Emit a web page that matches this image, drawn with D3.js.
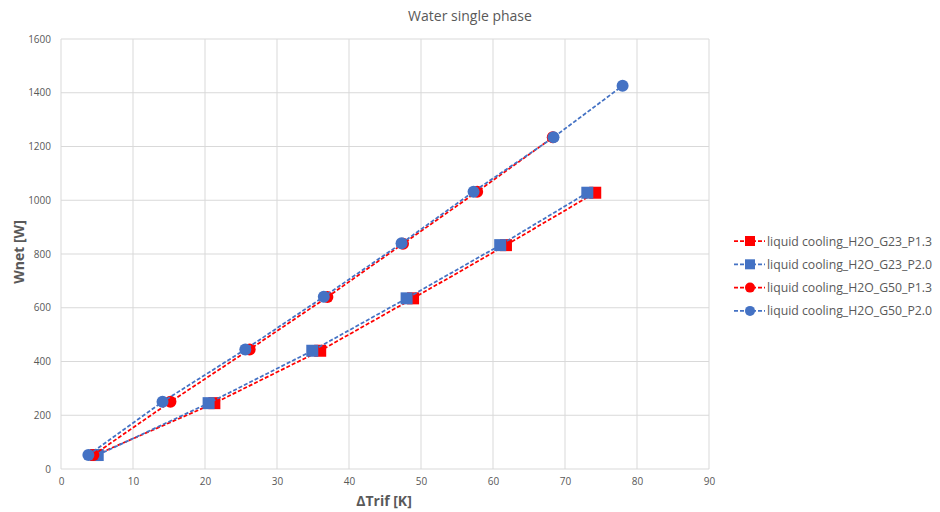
<!DOCTYPE html>
<html>
<head>
<meta charset="utf-8">
<script src="https://cdn.jsdelivr.net/npm/d3@7"></script>
<style>
  body { margin: 0; background: #fff; }
  text { font-family: "Open Sans", "Noto Sans", sans-serif; }
</style>
</head>
<body>
<div id="graph"></div>
<script>
/// Data

// x ticks / y ticks
const xTicks = [0, 10, 20, 30, 40, 50, 60, 70, 80, 90];
const yTicks = [0, 200, 400, 600, 800, 1000, 1200, 1400, 1600];

// series names
const seriesNames = [
  "liquid cooling_H2O_G23_P1.3",
  "liquid cooling_H2O_G23_P2.0",
  "liquid cooling_H2O_G50_P1.3",
  "liquid cooling_H2O_G50_P2.0"
];

// ΔTrif [K] and Wnet [W] per series
const g23p13_x = [4.8, 21.3, 36.0, 48.9, 61.8, 74.2];
const g23p13_y = [52, 245, 440, 635, 833, 1028];
const g23p20_x = [5.1, 20.5, 34.9, 48.0, 61.0, 73.1];
const g23p20_y = [52, 245, 440, 635, 833, 1028];
const g50p13_x = [4.5, 15.2, 26.2, 37.0, 47.5, 57.8, 68.3];
const g50p13_y = [52, 250, 445, 640, 838, 1032, 1234];
const g50p20_x = [3.8, 14.1, 25.6, 36.5, 47.3, 57.3, 68.4, 78.0];
const g50p20_y = [52, 250, 445, 641, 840, 1032, 1234, 1426];

const seriesX = [g23p13_x, g23p20_x, g50p13_x, g50p20_x];
const seriesY = [g23p13_y, g23p20_y, g50p13_y, g50p20_y];

// styles
const red = "#ff0000";
const blue = "#4472c4";
const colors = [red, blue, red, blue];
const shapes = ["square", "square", "circle", "circle"];

//Geometry
var width = 940, height = 512;
var plot = { left: 61, right: 709, top: 39, bottom: 469 };

var xScale = d3.scaleLinear().domain([0, 90]).range([plot.left, plot.right]);
var yScale = d3.scaleLinear().domain([0, 1600]).range([plot.bottom, plot.top]);

var svg = d3.select("#graph").append("svg")
  .attr("width", width)
  .attr("height", height);

// gridlines
svg.append("g").selectAll("line.vgrid")
  .data(xTicks).join("line")
  .attr("x1", d => xScale(d)).attr("x2", d => xScale(d))
  .attr("y1", plot.top).attr("y2", plot.bottom)
  .attr("stroke", "#d9d9d9").attr("stroke-width", 1);
svg.append("g").selectAll("line.hgrid")
  .data(yTicks).join("line")
  .attr("x1", plot.left).attr("x2", plot.right)
  .attr("y1", d => yScale(d)).attr("y2", d => yScale(d))
  .attr("stroke", "#d9d9d9").attr("stroke-width", 1);

// axes (labels only, gridlines drawn above)
var xAxis = svg.append("g")
  .attr("transform", "translate(0," + plot.bottom + ")")
  .call(d3.axisBottom(xScale).tickValues(xTicks).tickSize(0).tickPadding(9));
var yAxis = svg.append("g")
  .attr("transform", "translate(" + plot.left + ",0)")
  .call(d3.axisLeft(yScale).tickValues(yTicks).tickSize(0).tickPadding(10).tickFormat(d3.format("d")));
svg.selectAll(".domain").remove();
svg.selectAll(".tick text")
  .attr("fill", "#595959")
  .attr("font-size", "10px")
  .style("font-family", "'Open Sans', sans-serif");

// titles
svg.append("text")
  .attr("x", 470).attr("y", 21)
  .attr("text-anchor", "middle")
  .attr("fill", "#595959")
  .attr("font-size", "14px")
  .text("Water single phase");

svg.append("text")
  .attr("transform", "translate(24," + 252 + "),rotate(-90)")
  .attr("text-anchor", "middle")
  .attr("fill", "#595959")
  .attr("font-size", "14px")
  .attr("font-weight", "bold")
  .text("Wnet [W]");

svg.append("text")
  .attr("x", 384).attr("y", 506)
  .attr("text-anchor", "middle")
  .attr("fill", "#595959")
  .attr("font-size", "14px")
  .attr("font-weight", "bold")
  .text("\u0394Trif [K]");

// series
var line = d3.line()
  .x(d => xScale(d[0]))
  .y(d => yScale(d[1]));

function drawMarker(g, shape, color, cx, cy) {
  if (shape === "square") {
    g.append("rect")
      .attr("x", cx - 6).attr("y", cy - 6)
      .attr("width", 12).attr("height", 12)
      .attr("fill", color);
  } else {
    g.append("circle")
      .attr("cx", cx).attr("cy", cy).attr("r", 6)
      .attr("fill", color);
  }
}

seriesNames.forEach(function (name, i) {
  var pts = seriesX[i].map((x, j) => [x, seriesY[i][j]]);
  var g = svg.append("g");
  g.append("path")
    .datum(pts)
    .attr("fill", "none")
    .attr("stroke", colors[i])
    .attr("stroke-width", 1.75)
    .attr("stroke-dasharray", "4,2")
    .attr("d", line);
  pts.forEach(function (p) {
    drawMarker(g, shapes[i], colors[i], xScale(p[0]), yScale(p[1]));
  });
});

// legend
var legend = svg.append("g");
seriesNames.forEach(function (name, i) {
  var y = 241 + i * 23.3;
  legend.append("line")
    .attr("x1", 734).attr("x2", 765)
    .attr("y1", y).attr("y2", y)
    .attr("stroke", colors[i])
    .attr("stroke-width", 1.75)
    .attr("stroke-dasharray", "4,2");
  if (shapes[i] === "square") {
    legend.append("rect")
      .attr("x", 745).attr("y", y - 5)
      .attr("width", 10).attr("height", 10)
      .attr("fill", colors[i]);
  } else {
    legend.append("circle")
      .attr("cx", 750).attr("cy", y).attr("r", 5)
      .attr("fill", colors[i]);
  }
  legend.append("text")
    .attr("x", 767).attr("y", y + 4.5)
    .attr("fill", "#595959")
    .attr("font-size", "12.5px")
    .attr("textLength", 165)
    .attr("lengthAdjust", "spacingAndGlyphs")
    .text(name);
});
</script>
</body>
</html>
